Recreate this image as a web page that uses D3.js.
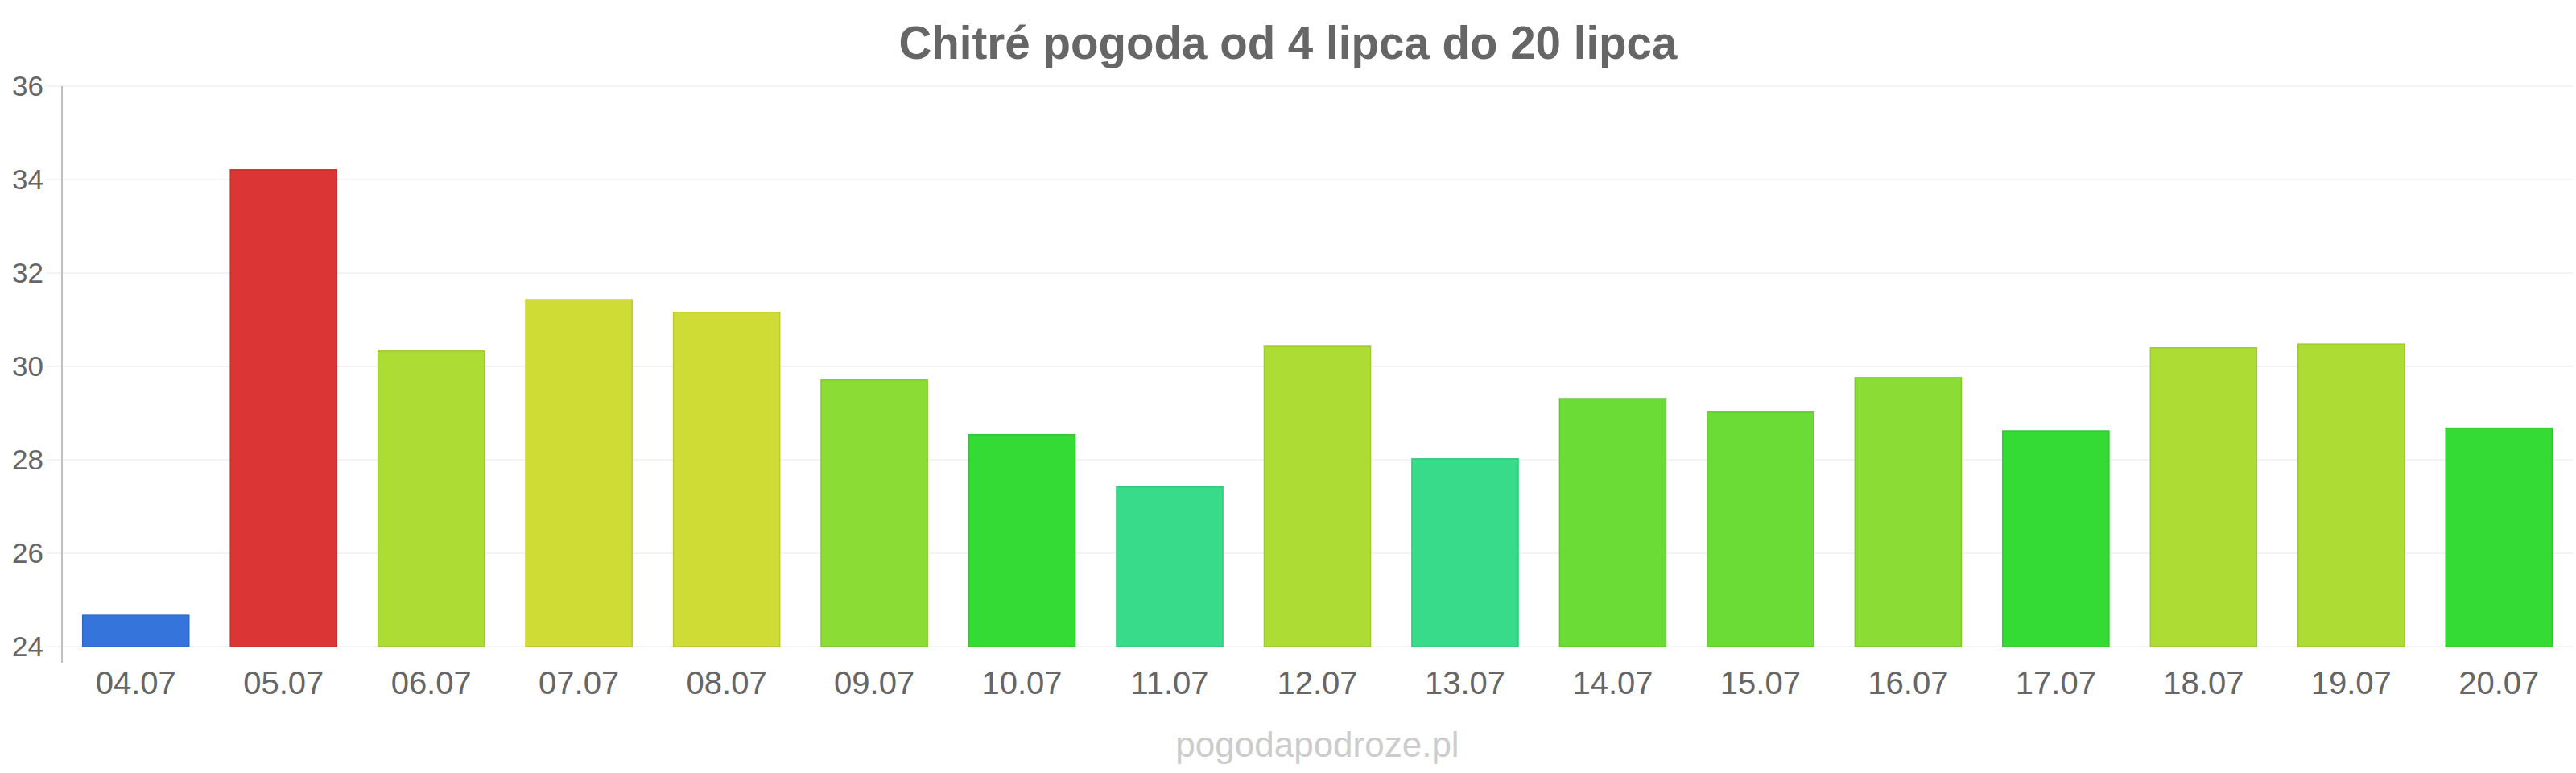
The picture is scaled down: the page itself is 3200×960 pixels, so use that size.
<!DOCTYPE html>
<html>
<head>
<meta charset="utf-8">
<script src="https://cdnjs.cloudflare.com/ajax/libs/d3/7.8.5/d3.min.js"></script>
<style>
  body { margin: 0; background: #fff; }
  text { font-family: "Liberation Sans", Arial, sans-serif; }
  .title { font-weight: bold; fill: #666; }
  .tick text { fill: #666; }
  .watermark { fill: #ccc; }
</style>
</head>
<body>
<svg id="chart"></svg>
<script>
// days shown on the x axis
const days = ['04.07', '05.07', '06.07', '07.07', '08.07', '09.07', '10.07', '11.07', '12.07',
  '13.07', '14.07', '15.07', '16.07', '17.07', '18.07', '19.07', '20.07'];

// max temperature per day
const temps = [24.67, 34.21, 30.33, 31.43, 31.16, 29.71, 28.54, 27.42, 30.43,
  28.02, 29.31, 29.02, 29.76, 28.62, 30.40, 30.48, 28.68];

const yTicks = [24, 26, 28, 30, 32, 34, 36];

// temperature bands -> bar colours
const tempSteps = [26, 28.5, 29, 29.5, 30, 31, 32];
const tempColors = ['#3474db', '#37db8a', '#35db35', '#6bdc35', '#8bdc35', '#addc35', '#cfdc35', '#db3535'];

class TempBarChart {

  constructor(_config) {
    this.config = {
      parentElement: _config.parentElement,
      containerWidth: 3200,
      containerHeight: 960,
      margin: {top: 107, right: 4, bottom: 157, left: 77},
      tickLength: 20
    };
    this.initVis();
  }

  initVis() {
    let vis = this;

    vis.width = vis.config.containerWidth - vis.config.margin.left - vis.config.margin.right;
    vis.height = vis.config.containerHeight - vis.config.margin.top - vis.config.margin.bottom;

    vis.xScale = d3.scaleBand()
        .domain(days)
        .range([0, vis.width])
        .paddingInner(0.28)
        .paddingOuter(0.14);

    vis.yScale = d3.scaleLinear()
        .domain([yTicks[0], yTicks[yTicks.length - 1]])
        .range([vis.height, 0]);

    vis.colorScale = d3.scaleThreshold()
        .domain(tempSteps)
        .range(tempColors);

    vis.svg = d3.select(vis.config.parentElement)
        .attr('width', vis.config.containerWidth)
        .attr('height', vis.config.containerHeight);

    vis.chart = vis.svg.append('g')
        .attr('transform', `translate(${vis.config.margin.left},${vis.config.margin.top})`);

    // title over the whole picture
    vis.svg.append('text')
        .attr('class', 'title')
        .attr('x', vis.config.containerWidth / 2)
        .attr('y', 73)
        .attr('text-anchor', 'middle')
        .style('font-size', '56.5px')
        .text('Chitré pogoda od 4 lipca do 20 lipca');

    // site name under the plot
    vis.svg.append('text')
        .attr('class', 'watermark')
        .attr('x', vis.config.margin.left + vis.width / 2)
        .attr('y', 940)
        .attr('text-anchor', 'middle')
        .style('font-size', '44px')
        .text('pogodapodroze.pl');

    vis.gridG = vis.chart.append('g').attr('class', 'grid');
    vis.barsG = vis.chart.append('g').attr('class', 'bars');
    vis.yAxisG = vis.chart.append('g').attr('class', 'axis y-axis');
    vis.xAxisG = vis.chart.append('g')
        .attr('class', 'axis x-axis')
        .attr('transform', `translate(0,${vis.height})`);
  }

  renderVis() {
    let vis = this;
    const tl = vis.config.tickLength;

    // grid lines, starting a tick length left of the axis
    vis.gridG.selectAll('line')
        .data(yTicks)
      .join('line')
        .attr('x1', -tl)
        .attr('x2', vis.width)
        .attr('y1', d => vis.yScale(d))
        .attr('y2', d => vis.yScale(d))
        .attr('stroke', '#f3f3f3')
        .attr('stroke-width', 2);

    vis.barsG.selectAll('rect')
        .data(temps)
      .join('rect')
        .attr('x', (d, i) => vis.xScale(days[i]))
        .attr('y', d => vis.yScale(d))
        .attr('width', vis.xScale.bandwidth())
        .attr('height', d => vis.yScale(yTicks[0]) - vis.yScale(d))
        .attr('fill', d => vis.colorScale(d))
        .attr('stroke', d => d3.color(vis.colorScale(d)).darker(0.25))
        .attr('stroke-width', 1.5);

    // y axis: labels only, line drawn below
    vis.yAxisG.call(d3.axisLeft(vis.yScale).tickValues(yTicks).tickSize(0).tickPadding(tl + 3));
    vis.yAxisG.select('.domain').remove();
    vis.yAxisG.selectAll('.tick text').style('font-size', '35px');
    vis.yAxisG.append('line')
        .attr('x1', 0).attr('x2', 0)
        .attr('y1', 0)
        .attr('y2', vis.height + tl)
        .attr('stroke', '#c0c0c0')
        .attr('stroke-width', 2);

    vis.xAxisG.call(d3.axisBottom(vis.xScale).tickSize(0).tickPadding(31));
    vis.xAxisG.select('.domain').remove();
    vis.xAxisG.selectAll('.tick text').style('font-size', '40px');
  }
}

const chart = new TempBarChart({parentElement: '#chart'});
chart.renderVis();
</script>
</body>
</html>
